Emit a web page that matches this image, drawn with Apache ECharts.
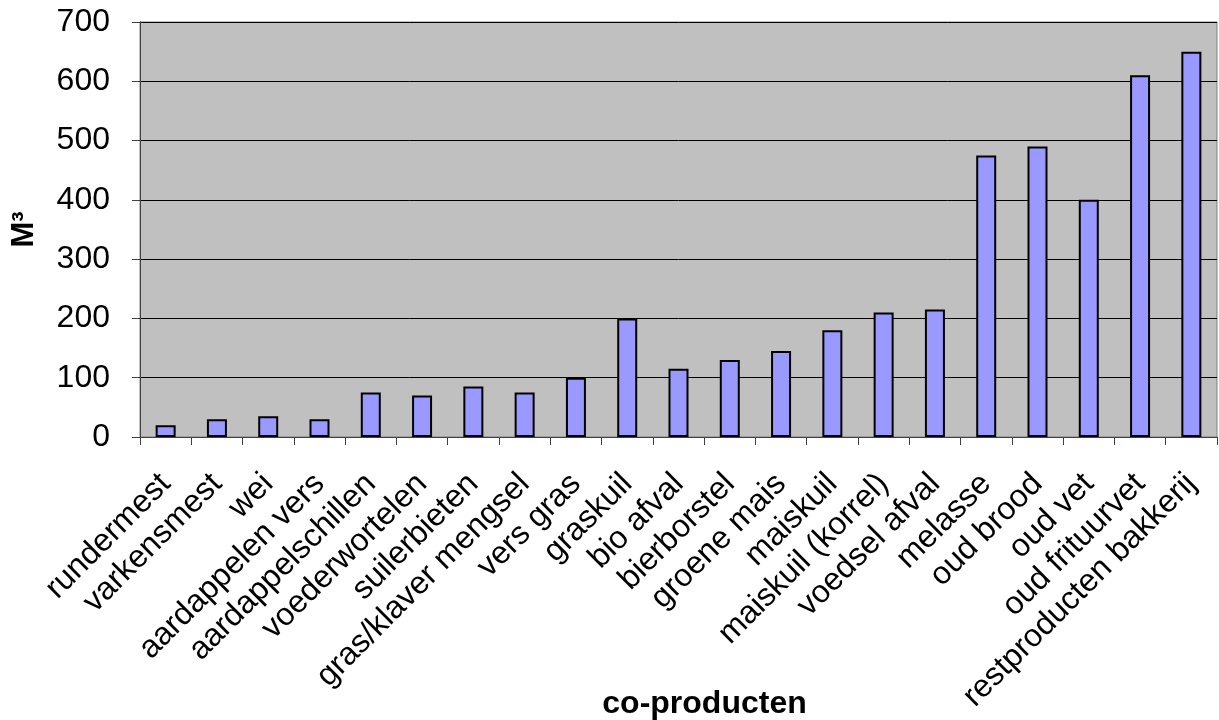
<!DOCTYPE html>
<html>
<head>
<meta charset="utf-8">
<script src="https://cdn.jsdelivr.net/npm/echarts@6/dist/echarts.min.js"></script>
<style>
  html, body { margin: 0; padding: 0; background: #ffffff; }
  #chart { width: 1219px; height: 720px; }
</style>
</head>
<body>
<div id="chart"></div>
<script>
// Volume per co-product (M³)
const categories = [
  'rundermest', 'varkensmest', 'wei', 'aardappelen vers', 'aardappelschillen',
  'voederwortelen', 'suilerbieten', 'gras/klaver mengsel', 'vers gras', 'graskuil',
  'bio afval', 'bierborstel', 'groene mais', 'maiskuil', 'maiskuil (korrel)',
  'voedsel afval', 'melasse', 'oud brood', 'oud vet', 'oud frituurvet',
  'restproducten bakkerij'
];
const volumes = [
  20, 30, 35, 30, 75,
  70, 85, 75, 100, 200,
  115, 130, 145, 180, 210,
  215, 475, 490, 400, 610,
  650
];
const yTicks = { min: 0, max: 700, step: 100 };
const xTitle = 'co-producten';
const yTitle = 'M³';

const font = '"Liberation Sans", Arial, sans-serif';
const chart = echarts.init(document.getElementById('chart'), null, { renderer: 'canvas' });

chart.setOption({
  animation: false,
  backgroundColor: '#ffffff',
  grid: {
    left: 140, right: 2, top: 22, bottom: 283,
    containLabel: false,
    outerBoundsMode: 'none',
    show: true,
    backgroundColor: '#C0C0C0',
    borderColor: '#808080',
    borderWidth: 1
  },
  xAxis: {
    type: 'category',
    data: categories,
    name: xTitle,
    nameLocation: 'middle',
    nameGap: 251,
    nameMoveOverlap: false,
    nameTextStyle: {
      fontFamily: font, fontSize: 32, fontWeight: 'bold', color: '#000',
      padding: [0, 0, 0, 52]
    },
    axisLine: { lineStyle: { color: '#404040', width: 1 } },
    axisTick: { show: true, alignWithLabel: false, length: 8, lineStyle: { color: '#404040' } },
    axisLabel: {
      interval: 0,
      rotate: 45,
      margin: 42,
      hideOverlap: false,
      fontFamily: font,
      fontSize: 32,
      color: '#000'
    },
    splitLine: { show: false }
  },
  yAxis: {
    type: 'value',
    min: yTicks.min,
    max: yTicks.max,
    interval: yTicks.step,
    name: yTitle,
    nameLocation: 'middle',
    nameGap: 100,
    nameRotate: 90,
    nameMoveOverlap: false,
    nameTextStyle: { fontFamily: font, fontSize: 31, fontWeight: 'bold', color: '#000' },
    axisLine: { show: true, lineStyle: { color: '#404040', width: 1 } },
    axisTick: { show: true, length: 8, lineStyle: { color: '#404040' } },
    axisLabel: {
      margin: 30,
      fontFamily: font,
      fontSize: 32,
      color: '#000'
    },
    splitLine: { show: true, lineStyle: { color: '#000000', width: 1 } }
  },
  series: [{
    type: 'bar',
    data: volumes,
    barWidth: 20,
    itemStyle: {
      color: '#9999FF',
      borderColor: '#000000',
      borderWidth: 2
    }
  }]
});
</script>
</body>
</html>
